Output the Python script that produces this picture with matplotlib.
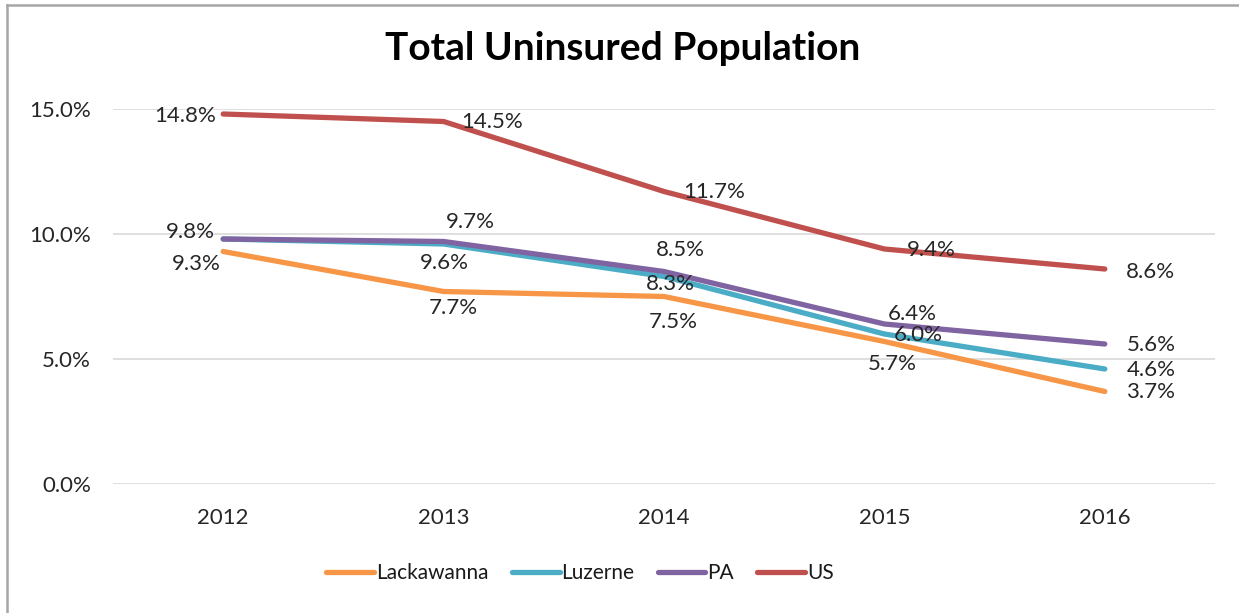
import numpy as np
import matplotlib
matplotlib.use("Agg")
import matplotlib.pyplot as plt
from matplotlib.lines import Line2D

# ------------------------------------------------------------------- data
YEARS = ["2012", "2013", "2014", "2015", "2016"]
LACKAWANNA = [9.3, 7.7, 7.5, 5.7, 3.7]
LUZERNE = [9.8, 9.6, 8.3, 6.0, 4.6]
PA = [9.8, 9.7, 8.5, 6.4, 5.6]
US = [14.8, 14.5, 11.7, 9.4, 8.6]

SERIES = [("Lackawanna", LACKAWANNA, "#F79646"),
          ("Luzerne", LUZERNE, "#4BACC6"),
          ("PA", PA, "#8064A2"),
          ("US", US, "#C0504D")]

# label offsets in pixels (dx, dy) from each point, per series
# (None = label hidden under another identical one)
OFFS = {"Lackawanna": [(-27, -12), (10, -17), (9, -25), (8, -22), (46, -1)],
        "Luzerne": [None, (1, -19), (6, -8), (34, -1), (46, -1)],
        "PA": [(-33, 7), (27, 19), (16, 21), (28, 10), (46, -1)],
        "US": [(-38, -2), (48, 0), (50, 0), (47, -1), (46, -3)]}

INK, GRID, BORDER = "#262626", "#d9d9d9", "#a6a6a6"
plt.rcParams.update({"font.family": ["Lato", "DejaVu Sans"], "font.size": 16})

W, H = 1239, 613
fig = plt.figure(figsize=(W / 100, H / 100), dpi=100)
ax = fig.add_axes([113 / W, 1 - 484 / H, (1215 - 113) / W, (484 - 109) / H])

x = np.arange(len(YEARS))
for name, vals, color in SERIES:
    ax.plot(x, vals, color=color, lw=3.8, solid_capstyle="round",
            solid_joinstyle="round", label=name, zorder=3)
for name, vals, color in SERIES:
    for xi, v, off in zip(x, vals, OFFS[name]):
        if off is None:
            continue
        ax.annotate(f"{v:.1f}%", (xi, v), xytext=off, textcoords="offset pixels",
                    ha="center", va="center", color=INK, fontsize=16, zorder=5)

ax.set_xlim(-0.5, len(YEARS) - 0.5)
ax.set_ylim(0, 15)
ax.set_yticks([0, 5, 10, 15])
ax.set_yticklabels([f"{t:.1f}%" for t in [0, 5, 10, 15]])
ax.set_xticks(x, YEARS)
ax.tick_params(axis="y", length=0, pad=16, colors=INK, labelsize=16)
ax.tick_params(axis="x", length=0, pad=17, colors=INK, labelsize=16)
ax.grid(axis="y", color=GRID, lw=1.2, zorder=0)
ax.set_axisbelow(True)
for s in ax.spines.values():
    s.set_visible(False)

fig.text(623 / W, 1 - 49 / H, "Total Uninsured Population", ha="center", va="center",
         fontsize=28, fontweight="bold", color="black")

handles = [Line2D([], [], color=c, lw=3.8, solid_capstyle="round") for _, _, c in SERIES]
fig.legend(handles, [n for n, _, _ in SERIES], loc="center", ncol=4, frameon=False,
           bbox_to_anchor=(580 / W, 1 - 573 / H), handlelength=2.3, handletextpad=0.1,
           columnspacing=1.1, fontsize=15, labelcolor="#1a1a1a")

# chart border (top and left edges visible)
fig.add_artist(Line2D([7 / W, 1], [1 - 5 / H, 1 - 5 / H], transform=fig.transFigure,
                      color=BORDER, lw=1.8))
fig.add_artist(Line2D([7 / W, 7 / W], [0, 1 - 5 / H], transform=fig.transFigure,
                      color=BORDER, lw=1.8))

fig.savefig("out.png", dpi=100)
